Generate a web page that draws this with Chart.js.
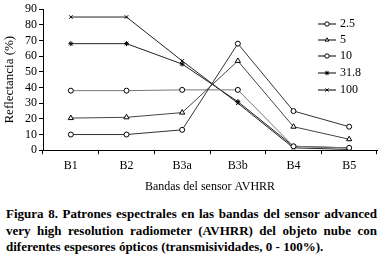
<!DOCTYPE html>
<html lang="es">
<head>
  <meta charset="UTF-8">
  <title>Figura 8 - Patrones espectrales AVHRR</title>
  <script src="https://cdn.jsdelivr.net/npm/chart.js"></script>
  <style>
    body {
      margin: 0;
      background: #fff;
      font-family: "Liberation Serif", "Times New Roman", serif;
    }
    .wrap {
      position: relative;
      width: 382px;
      height: 256px;
    }
    #chart {
      position: absolute;
      left: 0;
      top: 0;
    }
    .caption {
      position: absolute;
      left: 6px;
      top: 206px;
      width: 371px;
      font-weight: bold;
      font-size: 13px;
      line-height: 16.5px;
      text-align: justify;
      color: #000;
    }
  </style>
</head>
<body>
  <div class="wrap">
    <canvas id="chart" width="382" height="194"></canvas>
    <div class="caption">Figura 8. Patrones espectrales en las bandas del sensor advanced very high resolution radiometer (AVHRR) del objeto nube con diferentes espesores ópticos (transmisividades, 0 - 100%).</div>
  </div>

  <script>
    const bands = ['B1', 'B2', 'B3a', 'B3b', 'B4', 'B5'];
    const seriesNames = ['2.5', '5', '10', '31.8', '100'];
    const t25 = [10, 10, 13, 68, 25, 15];
    const t5 = [20.5, 21, 24, 57, 15, 7];
    const t10 = [38, 38, 38.5, 38.5, 2.5, 1.5];
    const t318 = [68, 68, 55, 31, 2.5, 1.5];
    const t100 = [85, 85, 57, 30, 1.5, 0.5];
    const yTicks = [0, 10, 20, 30, 40, 50, 60, 70, 80, 90];

    const values = [t25, t5, t10, t318, t100];
    const markers = ['circle', 'triangle', 'circle', 'star', 'crossRot'];
    const lineColors = ['#333', '#444', '#777', '#222', '#222'];

    const datasets = seriesNames.map((name, i) => ({
      label: name,
      data: values[i],
      borderColor: lineColors[i],
      borderWidth: 1,
      pointStyle: markers[i],
      pointRadius: markers[i] === 'triangle' ? 3 : 2.5,
      pointBackgroundColor: '#fff',
      pointBorderColor: '#000',
      pointBorderWidth: 1,
      tension: 0
    }));

    // legend drawn by hand: short line with marker in the middle, then label
    const sideLegend = {
      id: 'sideLegend',
      afterDraw(chart) {
        const ctx = chart.ctx;
        const x0 = 318, x1 = 336, rowY = [24, 40, 56, 73, 90];
        ctx.save();
        ctx.font = '12px "Liberation Serif", serif';
        ctx.textBaseline = 'middle';
        chart.data.datasets.forEach((ds, i) => {
          const y = rowY[i];
          ctx.strokeStyle = '#000';
          ctx.lineWidth = 1;
          ctx.beginPath();
          ctx.moveTo(x0, y);
          ctx.lineTo(x1, y);
          ctx.stroke();
          ctx.fillStyle = '#fff';
          Chart.helpers.drawPoint(ctx, {
            pointStyle: ds.pointStyle,
            radius: 2.2,
            borderWidth: 1,
            rotation: 0
          }, (x0 + x1) / 2, y);
          ctx.fillStyle = '#000';
          ctx.fillText(ds.label, x1 + 4, y);
        });
        ctx.restore();
      }
    };

    Chart.defaults.font.family = '"Liberation Serif", "Times New Roman", serif';
    Chart.defaults.color = '#000';

    new Chart(document.getElementById('chart'), {
      type: 'line',
      data: { labels: bands, datasets: datasets },
      options: {
        responsive: false,
        animation: false,
        layout: { padding: { top: 2, right: 3, left: 2 } },
        plugins: {
          legend: { display: false },
          tooltip: { enabled: false }
        },
        scales: {
          x: {
            offset: true,
            grid: {
              offset: true,
              drawOnChartArea: false,
              color: '#000',
              tickLength: 4
            },
            border: { color: '#000', width: 1 },
            ticks: { font: { size: 12 }, padding: 4 },
            title: {
              display: true,
              text: 'Bandas del sensor AVHRR',
              font: { size: 12 },
              padding: { top: 3, bottom: 0 }
            }
          },
          y: {
            min: 0,
            max: 90,
            afterBuildTicks(scale) {
              scale.ticks = yTicks.map(v => ({ value: v }));
            },
            afterFit(scale) {
              scale.width = 41;
            },
            grid: {
              drawOnChartArea: false,
              color: '#000',
              tickLength: 4
            },
            border: { color: '#000', width: 1 },
            ticks: { font: { size: 12 }, padding: 2, autoSkip: false },
            title: {
              display: true,
              text: 'Reflectancia (%)',
              font: { size: 13 },
              padding: { top: 0, bottom: 2 }
            }
          }
        }
      },
      plugins: [sideLegend]
    });
  </script>
</body>
</html>
